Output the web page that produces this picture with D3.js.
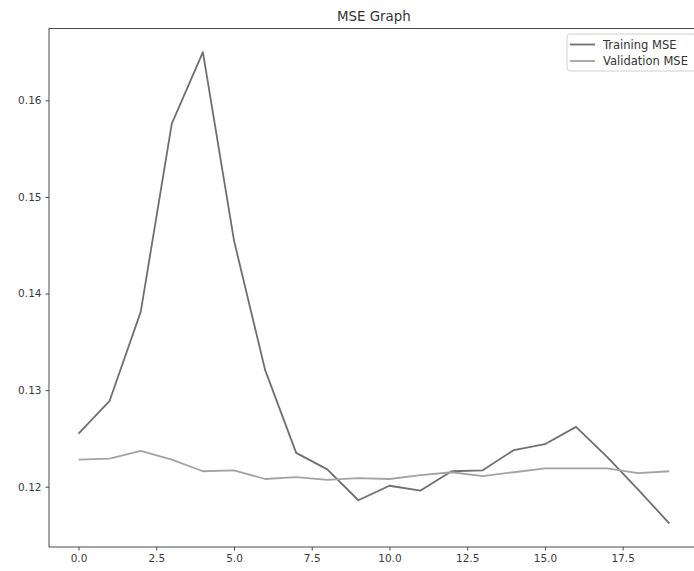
<!DOCTYPE html>
<html>
<head>
<meta charset="utf-8">
<script src="https://cdn.jsdelivr.net/npm/d3@7"></script>
<style>
  html, body { margin: 0; padding: 0; background: #fff; }
  svg { display: block; font-family: "DejaVu Sans", sans-serif; }
</style>
</head>
<body>
<svg id="chart" width="694" height="571"></svg>
<script>
// ---- data ----
const epochs = d3.range(20);
const trainingMSE = [0.1255, 0.1289, 0.1381, 0.1576, 0.1650, 0.1455, 0.1321, 0.1235, 0.1218, 0.1186,
                     0.1201, 0.1196, 0.1216, 0.1217, 0.1238, 0.1244, 0.1262, 0.1231, 0.1197, 0.1162];
const validationMSE = [0.1228, 0.1229, 0.1237, 0.1228, 0.1216, 0.1217, 0.1208, 0.1210, 0.1207, 0.1209,
                       0.1208, 0.1212, 0.1215, 0.1211, 0.1215, 0.1219, 0.1219, 0.1219, 0.1214, 0.1216];
const xTicks = [0, 2.5, 5, 7.5, 10, 12.5, 15, 17.5];
const yTicks = [0.12, 0.13, 0.14, 0.15, 0.16];
const seriesNames = ["Training MSE", "Validation MSE"];
const seriesColors = ["#6f6f6f", "#a3a3a3"];
const title = "MSE Graph";

// ---- layout ----
const svg = d3.select("#chart");
const mLeft = 49, mTop = 28.5, mRight = 698.8, mBottom = 547;

const xDomainPad = (d3.max(epochs) - d3.min(epochs)) * 0.05;
const allVals = trainingMSE.concat(validationMSE);
const yPad = (d3.max(allVals) - d3.min(allVals)) * 0.05;

const x = d3.scaleLinear()
  .domain([d3.min(epochs) - xDomainPad, d3.max(epochs) + xDomainPad])
  .range([mLeft, mRight]);
const y = d3.scaleLinear()
  .domain([d3.min(allVals) - yPad, d3.max(allVals) + yPad])
  .range([mBottom, mTop]);

// lines
const line = d3.line().x((d, i) => x(epochs[i])).y(d => y(d));
[trainingMSE, validationMSE].forEach((s, k) => {
  svg.append("path")
    .datum(s)
    .attr("d", line)
    .attr("fill", "none")
    .attr("stroke", seriesColors[k])
    .attr("stroke-width", 1.8)
    .attr("stroke-linejoin", "round");
});

// spines
svg.append("rect")
  .attr("x", mLeft).attr("y", mTop)
  .attr("width", mRight - mLeft).attr("height", mBottom - mTop)
  .attr("fill", "none").attr("stroke", "#4a4a4a").attr("stroke-width", 1);

// axes
const xAxis = d3.axisBottom(x).tickValues(xTicks).tickFormat(d3.format(".1f")).tickSize(3.5).tickPadding(4);
const yAxis = d3.axisLeft(y).tickValues(yTicks).tickFormat(d3.format(".2f")).tickSize(3.5).tickPadding(4);

const gx = svg.append("g").attr("transform", `translate(0,${mBottom})`).call(xAxis);
const gy = svg.append("g").attr("transform", `translate(${mLeft},0)`).call(yAxis);
[gx, gy].forEach(g => {
  g.select(".domain").remove();
  g.selectAll(".tick line").attr("stroke", "#4a4a4a");
  g.selectAll(".tick text").attr("fill", "#3a3a3a")
    .style("font-family", "'DejaVu Sans', sans-serif").style("font-size", "10.5px");
});

// title
svg.append("text")
  .attr("x", (mLeft + mRight) / 2).attr("y", 21)
  .attr("text-anchor", "middle")
  .attr("fill", "#333")
  .style("font-size", "13.4px")
  .text(title);

// legend
const lg = svg.append("g").attr("transform", "translate(567,34)");
lg.append("rect")
  .attr("x", 0).attr("y", 0).attr("width", 140).attr("height", 37)
  .attr("rx", 3).attr("fill", "#fff").attr("fill-opacity", 0.8)
  .attr("stroke", "#d0d0d0");
seriesNames.forEach((name, k) => {
  const yy = 10.5 + k * 16.5;
  lg.append("line").attr("x1", 3).attr("x2", 28).attr("y1", yy).attr("y2", yy)
    .attr("stroke", seriesColors[k]).attr("stroke-width", 1.8);
  lg.append("text").attr("x", 36).attr("y", yy + 4)
    .attr("fill", "#333").style("font-size", "11.5px").text(name);
});
</script>
</body>
</html>
